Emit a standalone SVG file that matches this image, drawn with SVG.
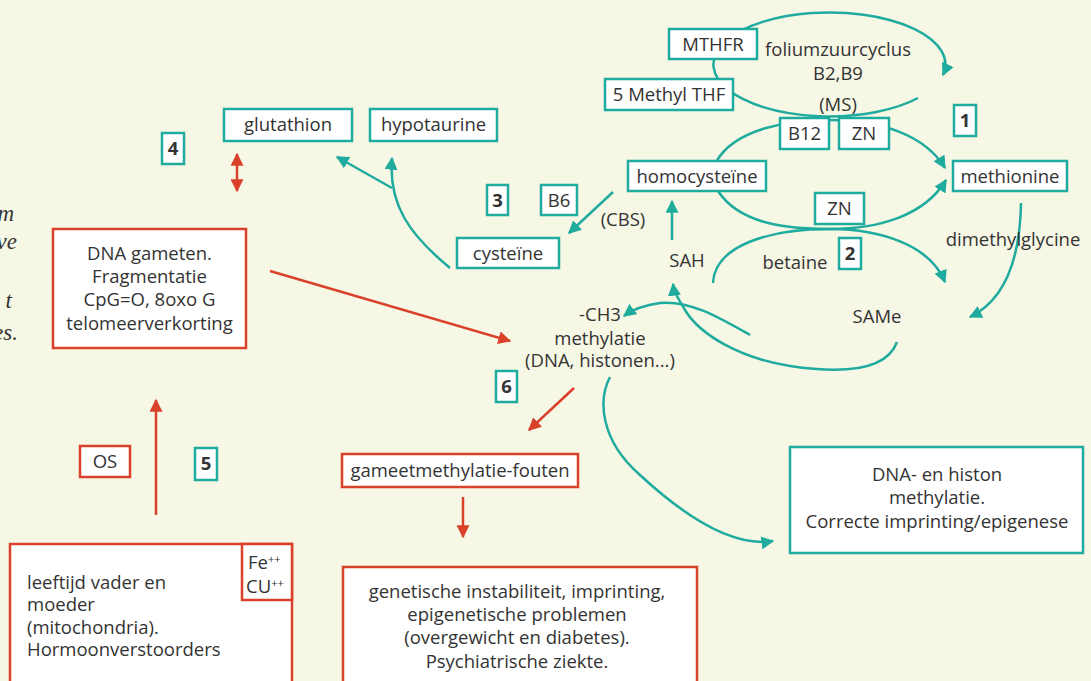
<svg xmlns="http://www.w3.org/2000/svg" width="1091" height="681" viewBox="0 0 1091 681">
<defs>
<style>
.bg{fill:#f7f7e6}
.tb{fill:#fff;stroke:#1fab9e;stroke-width:2.5}
.rb{fill:#fff;stroke:#d9412b;stroke-width:2.5}
text{font-family:"Open Sans","Liberation Sans",sans-serif;font-size:18.5px;fill:#333}
.c{text-anchor:middle}
.num{font-weight:bold;text-anchor:middle}
text.it{font-family:"Liberation Serif","DejaVu Serif",serif;font-style:italic;font-size:23px;text-anchor:end}
.tl{fill:none;stroke:#1fab9e;stroke-width:2.5}
.rl{fill:none;stroke:#d9412b;stroke-width:2.5}
</style>
<marker id="at" viewBox="0 0 10 10" refX="9" refY="5" markerWidth="13" markerHeight="13" markerUnits="userSpaceOnUse" orient="auto"><path d="M0,0 L10,5 L0,10 z" fill="#1fab9e"/></marker>
<marker id="ar" viewBox="0 0 10 10" refX="9" refY="5" markerWidth="13" markerHeight="13" markerUnits="userSpaceOnUse" orient="auto-start-reverse"><path d="M0,0 L10,5 L0,10 z" fill="#d9412b"/></marker>
</defs>
<rect class="bg" x="0" y="0" width="1091" height="681"/>

<g id="margin-text">
<text class="it" x="14" y="221">m</text>
<text class="it" x="17" y="249">ve</text>
<text class="it" x="12" y="308">t</text>
<text class="it" x="18" y="340">es.</text>
</g>

<g id="connectors">
<path class="tl" d="M918 98 A116 52 0 1 1 943 75" marker-end="url(#at)"/>
<path class="tl" d="M716 162 C735 128 790 120 830 120 C880 120 925 135 945 168" marker-end="url(#at)"/>
<path class="tl" d="M718 191 C740 225 790 229 830 229 C880 229 925 215 946 180" marker-end="url(#at)"/>
<path class="tl" d="M713 283 C715 245 770 229 830 229 C880 229 930 245 945 282" marker-end="url(#at)"/>
<path class="tl" d="M1021 203 C1020 260 1005 300 970 317" marker-end="url(#at)"/>
<path class="tl" d="M897 342 C885 375 830 372 790 366 C740 358 700 335 685 310 C678 298 674 292 673 284" marker-end="url(#at)"/>
<path class="tl" d="M750 335 C720 318 690 300 660 303 C645 305 632 310 624 316" marker-end="url(#at)"/>
<path class="tl" d="M672 240 L672 201" marker-end="url(#at)"/>
<path class="tl" d="M613 192 L569 233" marker-end="url(#at)"/>
<path class="tl" d="M450 268 C410 235 388 205 392 158" marker-end="url(#at)"/>
<path class="tl" d="M392 188 L337 157" marker-end="url(#at)"/>
<path class="tl" d="M610 377 C598 400 600 440 640 475 C680 512 730 548 773 541" marker-end="url(#at)"/>
<path class="rl" d="M237 154 L237 191" marker-start="url(#ar)" marker-end="url(#ar)"/>
<path class="rl" d="M270 271 L510 341" marker-end="url(#ar)"/>
<path class="rl" d="M574 388 L529 430" marker-end="url(#ar)"/>
<path class="rl" d="M463 497 L463 537" marker-end="url(#ar)"/>
<path class="rl" d="M156 515 L156 400" marker-end="url(#ar)"/>
</g>

<g id="folate-labels">
<text class="c" x="838" y="56">foliumzuurcyclus</text>
<text class="c" x="838" y="80">B2,B9</text>
<text class="c" x="838" y="111">(MS)</text>
</g>
<g id="mthfr"><rect class="tb" x="669" y="29" width="88" height="30"/><text class="c" x="713" y="51">MTHFR</text></g>
<g id="methylthf"><rect class="tb" x="605" y="79" width="128" height="31"/><text class="c" x="669" y="101">5 Methyl THF</text></g>
<g id="b12"><rect class="tb" x="780" y="118" width="49" height="31"/><text class="c" x="804.5" y="140">B12</text></g>
<g id="zn1"><rect class="tb" x="839" y="118" width="50" height="31"/><text class="c" x="864" y="140">ZN</text></g>
<g id="n1"><rect class="tb" x="954" y="105" width="22" height="31"/><text class="num" x="965" y="127">1</text></g>
<g id="homocysteine"><rect class="tb" x="628" y="161" width="138" height="30"/><text class="c" x="697" y="183">homocysteïne</text></g>
<g id="methionine"><rect class="tb" x="953" y="161" width="114" height="30"/><text class="c" x="1010" y="183">methionine</text></g>
<g id="zn2"><rect class="tb" x="815" y="193" width="49" height="31"/><text class="c" x="839.5" y="215">ZN</text></g>
<g id="n2"><rect class="tb" x="839" y="238" width="22" height="31"/><text class="num" x="850" y="260">2</text></g>
<g id="betaine"><text class="c" x="795" y="269">betaine</text></g>
<g id="dimethylglycine"><text class="c" x="1013" y="246">dimethylglycine</text></g>
<g id="same"><text class="c" x="877" y="323">SAMe</text></g>
<g id="sah"><text class="c" x="687" y="267">SAH</text></g>
<g id="cbs"><text class="c" x="623" y="226">(CBS)</text></g>
<g id="b6"><rect class="tb" x="541" y="185" width="36" height="30"/><text class="c" x="559" y="207">B6</text></g>
<g id="n3"><rect class="tb" x="487" y="185" width="21" height="30"/><text class="num" x="497.5" y="207">3</text></g>
<g id="cysteine"><rect class="tb" x="457" y="238" width="102" height="30"/><text class="c" x="508" y="260">cysteïne</text></g>
<g id="methylatie">
<text class="c" x="600" y="321">-CH3</text>
<text class="c" x="600" y="345">methylatie</text>
<text class="c" x="600" y="367">(DNA, histonen...)</text>
</g>
<g id="glutathion"><rect class="tb" x="224" y="109" width="128" height="32"/><text class="c" x="288" y="131">glutathion</text></g>
<g id="hypotaurine"><rect class="tb" x="370" y="109" width="127" height="32"/><text class="c" x="433.5" y="131">hypotaurine</text></g>
<g id="n4"><rect class="tb" x="162" y="133" width="22" height="31"/><text class="num" x="173" y="155">4</text></g>
<g id="dna-gameten">
<rect class="rb" x="53" y="229" width="193" height="119"/>
<text class="c" x="149.5" y="260">DNA gameten.</text>
<text class="c" x="149.5" y="283">Fragmentatie</text>
<text class="c" x="149.5" y="306">CpG=O, 8oxo G</text>
<text class="c" x="149.5" y="330">telomeerverkorting</text>
</g>
<g id="n6"><rect class="tb" x="496" y="371" width="21" height="31"/><text class="num" x="506.5" y="393">6</text></g>
<g id="os"><rect class="rb" x="80" y="446" width="50" height="31"/><text class="c" x="105" y="468">OS</text></g>
<g id="n5"><rect class="tb" x="195" y="448" width="22" height="32"/><text class="num" x="206" y="470">5</text></g>
<g id="gameet"><rect class="rb" x="342" y="454" width="236" height="33"/><text class="c" x="460" y="477">gameetmethylatie-fouten</text></g>
<g id="dna-histon">
<rect class="tb" x="790" y="447" width="293" height="106"/>
<text class="c" x="937" y="481">DNA- en histon</text>
<text class="c" x="937" y="504">methylatie.</text>
<text class="c" x="937" y="528">Correcte imprinting/epigenese</text>
</g>
<g id="leeftijd">
<rect class="rb" x="10" y="544" width="282" height="150"/>
<text x="27" y="589">leeftijd vader en</text>
<text x="27" y="611">moeder</text>
<text x="27" y="634">(mitochondria).</text>
<text x="27" y="656">Hormoonverstoorders</text>
</g>
<g id="fecu">
<rect class="rb" x="242" y="544" width="50" height="56"/>
<text x="248" y="569">Fe<tspan dy="-6" font-size="11">++</tspan></text>
<text x="246" y="593">CU<tspan dy="-6" font-size="11">++</tspan></text>
</g>
<g id="genetische">
<rect class="rb" x="343" y="567" width="354" height="130"/>
<text class="c" x="517" y="598">genetische instabiliteit, imprinting,</text>
<text class="c" x="517" y="621">epigenetische problemen</text>
<text class="c" x="517" y="644">(overgewicht en diabetes).</text>
<text class="c" x="517" y="668">Psychiatrische ziekte.</text>
</g>
</svg>
